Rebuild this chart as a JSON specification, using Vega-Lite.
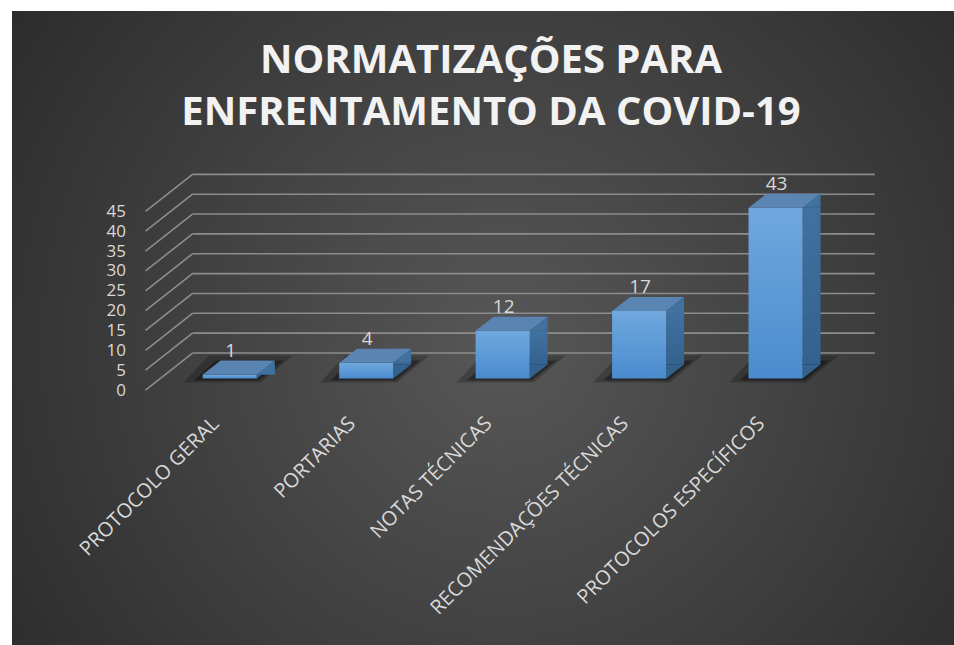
{
  "$schema": "https://vega.github.io/schema/vega-lite/v6.json",
  "width": 942,
  "height": 634,
  "autosize": {"type": "none"},
  "padding": {"left": 12, "top": 11, "right": 0, "bottom": 0},
  "background": "#ffffff",
  "view": {
    "stroke": null,
    "fill": {
      "gradient": "radial",
      "x1": 0.52, "y1": 0.52, "r1": 0,
      "x2": 0.52, "y2": 0.52, "r2": 0.72,
      "stops": [
        {"offset": 0, "color": "#575757"},
        {"offset": 1, "color": "#262626"}
      ]
    }
  },
  "title": {
    "text": ["NORMATIZAÇÕES PARA", "ENFRENTAMENTO DA COVID-19"],
    "anchor": "middle",
    "frame": "group",
    "orient": "top",
    "baseline": "top",
    "offset": -122,
    "dx": 8,
    "font": "Open Sans",
    "fontSize": 40,
    "fontWeight": "bold",
    "color": "#f2f2f2",
    "lineHeight": 52
  },
  "datasets": {
    "bars": [
      {"categoria": "PROTOCOLO GERAL", "quantidade": 1},
      {"categoria": "PORTARIAS", "quantidade": 4},
      {"categoria": "NOTAS TÉCNICAS", "quantidade": 12},
      {"categoria": "RECOMENDAÇÕES TÉCNICAS", "quantidade": 17},
      {"categoria": "PROTOCOLOS ESPECÍFICOS", "quantidade": 43}
    ],
    "grade": [
      {"nivel": 0}, {"nivel": 5}, {"nivel": 10}, {"nivel": 15}, {"nivel": 20},
      {"nivel": 25}, {"nivel": 30}, {"nivel": 35}, {"nivel": 40}, {"nivel": 45}
    ]
  },
  "layer": [
    {
      "data": {"name": "bars"},
      "mark": {"type": "point", "filled": true, "opacity": 0.22, "color": "#000000", "size": 10000, "strokeWidth": 0,
        "shape": "M-0.92,0.08L0.62,0.08L1.26,-0.46L-0.42,-0.46Z", "xOffset": 16, "yOffset": -11.5},
      "encoding": {
        "x": {
          "field": "categoria", "type": "nominal", "sort": null,
          "scale": {"type": "band", "domain": ["PROTOCOLO GERAL", "PORTARIAS", "NOTAS TÉCNICAS", "RECOMENDAÇÕES TÉCNICAS", "PROTOCOLOS ESPECÍFICOS"], "paddingInner": 0, "paddingOuter": 0.9518, "align": 0.514},
          "axis": {"orient": "bottom", "offset": -255, "title": null, "labelAngle": -45, "labelFont": "Open Sans", "labelFontSize": 20, "labelColor": "#d9d9d9", "ticks": false, "domain": false, "grid": false, "labelPadding": 23, "labelOffset": -5, "labelLimit": 0, "labelOverlap": false}
        },
        "y": {
          "datum": 0, "type": "quantitative",
          "scale": {"domain": [-64.23, 95.47], "nice": false, "zero": false},
          "axis": {"orient": "left", "offset": -133.5, "title": null, "values": [0, 5, 10, 15, 20, 25, 30, 35, 40, 45], "labelFont": "Open Sans", "labelFontSize": 17, "labelColor": "#d9d9d9", "ticks": false, "domain": false, "grid": false, "labelPadding": 20, "labelOverlap": false}
        }
      }
    },
    {
      "data": {"name": "bars"},
      "mark": {"type": "point", "filled": true, "opacity": 0.35, "color": "#000000", "size": 10000, "strokeWidth": 0,
        "shape": "M-0.72,0.04L0.58,0.04L1.08,-0.36L-0.28,-0.36Z", "xOffset": 16, "yOffset": -11.5},
      "encoding": {
        "x": {"field": "categoria", "type": "nominal"},
        "y": {"datum": 0, "type": "quantitative"}
      }
    },
    {
      "data": {"name": "grade"},
      "mark": {"type": "rule", "color": "#8c8c8c", "strokeWidth": 1.6, "xOffset": 47, "x2Offset": 47, "yOffset": -37},
      "encoding": {
        "x": {"datum": "PROTOCOLO GERAL", "type": "nominal", "bandPosition": 0},
        "x2": {"datum": "PROTOCOLOS ESPECÍFICOS", "bandPosition": 1},
        "y": {"field": "nivel", "type": "quantitative"}
      }
    },
    {
      "data": {"name": "grade"},
      "mark": {"type": "rule", "color": "#8c8c8c", "strokeWidth": 1.6, "x2Offset": 47, "y2Offset": -37},
      "encoding": {
        "x": {"datum": "PROTOCOLO GERAL", "type": "nominal", "bandPosition": 0},
        "x2": {"datum": "PROTOCOLO GERAL", "bandPosition": 0},
        "y": {"field": "nivel", "type": "quantitative"},
        "y2": {"field": "nivel"}
      }
    },
    {
      "data": {"name": "bars"},
      "mark": {"type": "point", "filled": true, "opacity": 1, "color": "#33628f", "size": 10000, "strokeWidth": 0,
        "shape": "M0.54,-0.28L0.54,0L0.9,-0.28Z", "xOffset": 16, "yOffset": -11.5},
      "encoding": {
        "x": {"field": "categoria", "type": "nominal"},
        "y": {"datum": 0, "type": "quantitative"}
      }
    },
    {
      "data": {"name": "bars"},
      "mark": {"type": "bar", "width": 18, "xOffset": 52, "yOffset": -11.5, "y2Offset": -25.5,
        "color": {"gradient": "linear", "x1": 0, "y1": 0, "x2": 0, "y2": 1, "stops": [{"offset": 0, "color": "#41719f"}, {"offset": 1, "color": "#33628f"}]}},
      "encoding": {
        "x": {"field": "categoria", "type": "nominal"},
        "y": {"field": "quantidade", "type": "quantitative"},
        "y2": {"datum": 0}
      }
    },
    {
      "data": {"name": "bars"},
      "mark": {"type": "bar", "width": {"band": 0.396}, "xOffset": 16, "yOffset": -11.5, "y2Offset": -11.5,
        "color": {"gradient": "linear", "x1": 0, "y1": 0, "x2": 0, "y2": 1, "stops": [{"offset": 0, "color": "#70a8de"}, {"offset": 1, "color": "#4a8bcf"}]}},
      "encoding": {
        "x": {"field": "categoria", "type": "nominal"},
        "y": {"field": "quantidade", "type": "quantitative"},
        "y2": {"datum": 0}
      }
    },
    {
      "data": {"name": "bars"},
      "mark": {"type": "point", "filled": true, "opacity": 1, "color": "#5a84b2", "size": 10000, "strokeWidth": 0,
        "shape": "M-0.54,0L0.54,0L0.9,-0.28L-0.18,-0.28Z", "xOffset": 16, "yOffset": -11.5},
      "encoding": {
        "x": {"field": "categoria", "type": "nominal"},
        "y": {"field": "quantidade", "type": "quantitative"}
      }
    },
    {
      "data": {"name": "bars"},
      "mark": {"type": "point", "filled": true, "opacity": 1, "color": "#41719f", "size": 10000, "strokeWidth": 0,
        "shape": "M0.54,0L0.9,-0.28L0.9,0Z", "xOffset": 16, "yOffset": -11.5},
      "encoding": {
        "x": {"field": "categoria", "type": "nominal"},
        "y": {"field": "quantidade", "type": "quantitative"}
      }
    },
    {
      "data": {"name": "bars"},
      "mark": {"type": "text", "font": "Open Sans", "fontSize": 19, "color": "#d9d9d9", "baseline": "middle", "align": "center", "xOffset": 17, "yOffset": -35.5},
      "encoding": {
        "x": {"field": "categoria", "type": "nominal"},
        "y": {"field": "quantidade", "type": "quantitative"},
        "text": {"field": "quantidade", "type": "quantitative"}
      }
    }
  ]
}
